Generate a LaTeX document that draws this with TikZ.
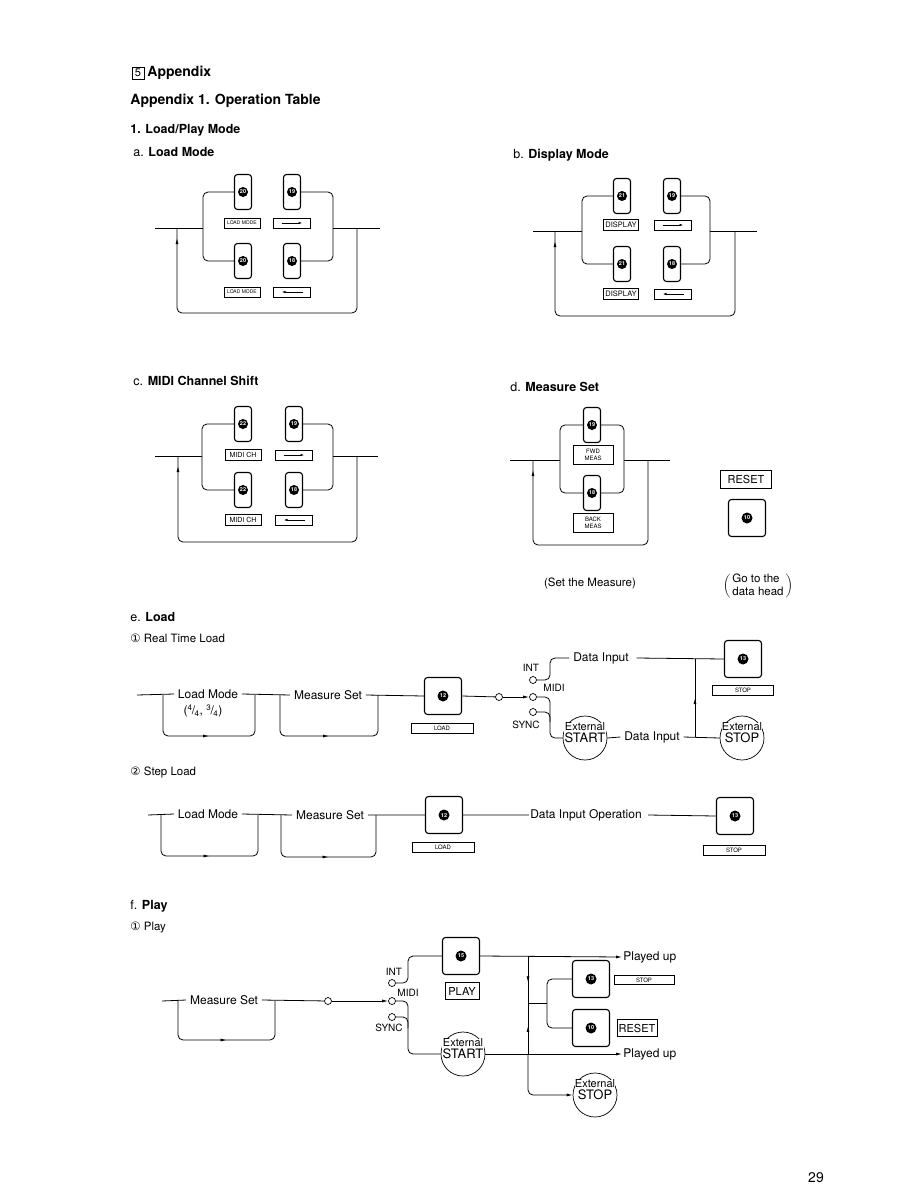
\documentclass[tikz,border=0pt]{standalone}
\usepackage{fontspec}
\setmainfont{TeX Gyre Heros}
\newfontfamily\symfont{DejaVu Sans}
\usetikzlibrary{arrows.meta}
\usetikzlibrary{decorations.markings}
\usetikzlibrary{calc}
\tikzset{
  >={Latex[length=6pt,width=3pt]},
  flow/.style={rounded corners=5pt},
  mtip/.style={decoration={markings, mark=at position #1 with {\arrow{>}}}, postaction=decorate},
  knum/.style={circle, fill=black, text=white, inner sep=0pt, minimum size=10pt, font=\fontsize{5.5}{6}\selectfont\bfseries},
  tallkey/.style={draw, line width=1.1pt, rounded corners=3pt, minimum width=17pt, minimum height=35pt, inner sep=0pt, label={[knum]center:#1}},
  sqkey/.style={draw, line width=1.1pt, rounded corners=3pt, minimum width=37pt, minimum height=37pt, inner sep=0pt, label={[knum, minimum size=11pt]center:#1}},
  lbl/.style={draw, line width=0.7pt, minimum width=36pt, minimum height=10pt, inner sep=0.5pt, font=\fontsize{5}{6}\selectfont},
  arrbase/.style={draw, line width=0.7pt, minimum width=37pt, minimum height=10pt, inner sep=0pt},
  fwdbox/.style={arrbase, path picture={\draw[line width=0.8pt, -{Latex[length=4pt,width=2.5pt]}] ([xshift=8pt]path picture bounding box.west) -- ([xshift=-8pt]path picture bounding box.east);}},
  backbox/.style={arrbase, path picture={\draw[line width=0.8pt, {Latex[length=4pt,width=2.5pt]}-] ([xshift=8pt]path picture bounding box.west) -- ([xshift=-8pt]path picture bounding box.east);}},
  jack/.style={circle, draw, line width=0.7pt, fill=white, minimum size=7pt, inner sep=0pt},
  extc/.style={circle, draw, line width=0.7pt, minimum size=44pt, inner sep=0pt},
  exttxt/.style={fill=white, inner sep=0.3pt, align=center, yshift=5pt},
  txt/.style={font=\fontsize{12}{14}\selectfont, inner sep=3.5pt},
  small/.style={font=\fontsize{10}{12}\selectfont, inner sep=0.5pt},
  head/.style={anchor=west, font=\fontsize{12.5}{15}\selectfont, inner sep=0pt}
}
\newcommand{\extlbl}[1]{{\fontsize{11}{12}\selectfont External}\\{\fontsize{13}{14}\selectfont #1}}
\newcommand{\slfrac}[2]{\textsuperscript{#1}\kern-0.6pt/\kern-0.6pt\textsubscript{#2}}

\begin{document}
\begin{tikzpicture}[x=1pt, y=-1pt, line width=0.8pt]
    \useasboundingbox (0,0) rectangle (918,1188);

    % Headings
    \node[draw, line width=0.6pt, minimum size=12pt, inner sep=0pt, font=\fontsize{11}{12}\selectfont] (hNum) at (138,73) {5};
    \node[anchor=west, font=\fontsize{14}{16}\selectfont\bfseries, inner sep=0pt] (hApp) at (147,73) {Appendix};
    \node[anchor=west, font=\fontsize{14}{16}\selectfont\bfseries, inner sep=0pt] (hTab) at (130,101) {Appendix 1. Operation Table};
    \node[anchor=west, font=\fontsize{12.5}{15}\selectfont\bfseries, inner sep=0pt] (hLP) at (130,130) {1. Load/Play Mode};
    \node[head] (hA) at (133,152) {a. \textbf{Load Mode}};
    \node[head] (hB) at (513,155) {b. \textbf{Display Mode}};
    \node[head] (hC) at (133,381) {c. \textbf{MIDI Channel Shift}};
    \node[head] (hD) at (510,387) {d. \textbf{Measure Set}};
    \node[head] (hE) at (130,617) {e. \textbf{Load}};
    \node[head, font=\fontsize{11.5}{14}\selectfont] (hE1) at (130,638) {{\symfont ①} Real Time Load};
    \node[head, font=\fontsize{11.5}{14}\selectfont] (hE2) at (130,772) {{\symfont ②} Step Load};
    \node[head] (hF) at (130,906) {f. \textbf{Play}};
    \node[head, font=\fontsize{11.5}{14}\selectfont] (hF1) at (130,927) {{\symfont ①} Play};

    % a. Load Mode
    \coordinate (aL) at (155,228);
    \coordinate (aR) at (380,228);
    \coordinate (aBl) at (203,228);
    \coordinate (aBr) at (333,228);
    \coordinate (aRetR) at (357,228);
    \coordinate (aRetL) at (177,228);
    \coordinate (aRetB) at (267,313);
    \node[tallkey=20] (aK20u) at (243,192) {};
    \node[tallkey=19] (aK19) at (292,192) {};
    \node[tallkey=20] (aK20d) at (243,261) {};
    \node[tallkey=18] (aK18) at (292,261) {};
    \node[lbl] (aLm1) at (242,223) {LOAD MODE};
    \node[fwdbox] (aFwd) at (292,223) {};
    \node[lbl] (aLm2) at (242,292) {LOAD MODE};
    \node[backbox] (aBack) at (292,292) {};
    \draw (aL) -- (aBl) (aBr) -- (aR);
    \draw[flow] (aK20u.west) -| (aBl) |- (aK20d.west);
    \draw[flow] (aK19.east) -| (aBr) |- (aK18.east);
    \draw[flow, mtip=-10pt] (aRetR) |- (aRetB) -| (aRetL);

    % b. Display Mode
    \coordinate (bL) at (533,231);
    \coordinate (bR) at (757,231);
    \coordinate (bBl) at (582,231);
    \coordinate (bBr) at (710,231);
    \coordinate (bRetR) at (735,231);
    \coordinate (bRetL) at (555,231);
    \coordinate (bRetB) at (645,316);
    \node[tallkey=21] (bK21u) at (622,196) {};
    \node[tallkey=19] (bK19) at (672,196) {};
    \node[tallkey=21] (bK21d) at (622,264) {};
    \node[tallkey=18] (bK18) at (672,264) {};
    \node[lbl, minimum width=35pt, minimum height=11pt, font=\fontsize{7.5}{8}\selectfont] (bDsp1) at (621,225) {DISPLAY};
    \node[fwdbox] (bFwd) at (673,225) {};
    \node[lbl, minimum width=35pt, minimum height=11pt, font=\fontsize{7.5}{8}\selectfont] (bDsp2) at (621,294) {DISPLAY};
    \node[backbox] (bBack) at (673,294) {};
    \draw (bL) -- (bBl) (bBr) -- (bR);
    \draw[flow] (bK21u.west) -| (bBl) |- (bK21d.west);
    \draw[flow] (bK19.east) -| (bBr) |- (bK18.east);
    \draw[flow, mtip=-10pt] (bRetR) |- (bRetB) -| (bRetL);

    % c. MIDI Channel Shift
    \coordinate (cL) at (155,456);
    \coordinate (cR) at (378,456);
    \coordinate (cBl) at (202,456);
    \coordinate (cBr) at (333,456);
    \coordinate (cRetR) at (357,456);
    \coordinate (cRetL) at (178,456);
    \coordinate (cRetB) at (267,542);
    \node[tallkey=22] (cK22u) at (243,424) {};
    \node[tallkey=19] (cK19) at (294,424) {};
    \node[tallkey=22] (cK22d) at (243,490) {};
    \node[tallkey=18] (cK18) at (294,490) {};
    \node[lbl, minimum height=11pt, font=\fontsize{7}{8}\selectfont] (cMch1) at (243,455) {MIDI CH};
    \node[fwdbox] (cFwd) at (294,455) {};
    \node[lbl, minimum height=11pt, font=\fontsize{7}{8}\selectfont] (cMch2) at (243,520) {MIDI CH};
    \node[backbox] (cBack) at (294,520) {};
    \draw (cL) -- (cBl) (cBr) -- (cR);
    \draw[flow] (cK22u.west) -| (cBl) |- (cK22d.west);
    \draw[flow] (cK19.east) -| (cBr) |- (cK18.east);
    \draw[flow, mtip=-10pt] (cRetR) |- (cRetB) -| (cRetL);

    % d. Measure Set
    \coordinate (dL) at (510,460);
    \coordinate (dR) at (670,460);
    \coordinate (dBl) at (560,460);
    \coordinate (dBr) at (624,460);
    \coordinate (dRetR) at (648,460);
    \coordinate (dRetL) at (533,460);
    \coordinate (dRetB) at (590,545);
    \node[tallkey=19] (dK19) at (592,425) {};
    \node[tallkey=18] (dK18) at (592,493) {};
    \node[lbl, minimum width=40pt, minimum height=19pt, align=center, font=\fontsize{6}{6.5}\selectfont] (dFwd) at (593,455) {FWD\\MEAS};
    \node[lbl, minimum width=40pt, minimum height=19pt, align=center, font=\fontsize{6}{6.5}\selectfont] (dBack) at (593,523) {BACK\\MEAS};
    \draw (dL) -- (dBl) (dBr) -- (dR);
    \draw[flow] (dK19.west) -| (dBl) |- (dK18.west);
    \draw[flow] (dK19.east) -| (dBr) |- (dK18.east);
    \draw[flow, mtip=-10pt] (dRetR) |- (dRetB) -| (dRetL);
    \node[draw, line width=0.7pt, minimum width=51pt, minimum height=18pt, inner sep=0pt, font=\fontsize{11}{12}\selectfont] (dReset) at (746,479) {RESET};
    \node[sqkey=10] (dK10) at (747,518) {};
    \node[txt, font=\fontsize{11.5}{14}\selectfont] (dSet) at (590,583) {(Set the Measure)};
    \node[txt, font=\fontsize{11.5}{13}\selectfont] (dGo) at (758,586) {$\left(\mbox{\begin{tabular}{@{\,}l@{\,}}Go to the\\ data head\end{tabular}}\right)$};

    % e. Real Time Load
    \coordinate (rL0) at (137,695);
    \coordinate (rL1) at (163,695);
    \coordinate (rL2) at (255,695);
    \coordinate (rLb) at (209,736);
    \coordinate (rM1) at (280,695);
    \coordinate (rM2) at (378,695);
    \coordinate (rMb) at (329,736);
    \node[txt] (rLm) at (208,694) {Load Mode};
    \node[txt] (rLmf) at (203,711) {(\slfrac{4}{4}, \slfrac{3}{4})};
    \node[txt] (rMs) at (328,695) {Measure Set};
    \node[sqkey=12] (rK12) at (443,696) {};
    \node[lbl, minimum width=62pt, font=\fontsize{6}{7}\selectfont] (rLoad) at (442,728) {LOAD};
    \draw (rL0) -- (rLm.west) (rLm.east) -- (rMs.west) (rMs.east) -- (rK12.west);
    \draw[flow, mtip=0.5] (rL1) |- (rLb) -| (rL2);
    \draw[flow, mtip=0.5] (rM1) |- (rMb) -| (rM2);
    \node[jack] (rJin) at (499,697) {};
    \node[jack] (rJint) at (533,680) {};
    \node[jack] (rJmidi) at (533,697) {};
    \node[jack] (rJsync) at (533,712) {};
    \node[small] (rInt) at (531,668) {INT};
    \node[small] (rMidi) at (554,688) {MIDI};
    \node[small] (rSync) at (526,725) {SYNC};
    \draw (rK12.east) -- (rJin);
    \draw[->] (rJin) -- (rJmidi);
    \coordinate (rC1) at (550,658);
    \coordinate (rC2) at (550,712);
    \coordinate (rC3) at (550,722);
    \node[txt] (rDi1) at (601,658) {Data Input};
    \node[sqkey=13] (rK13) at (743,659) {};
    \node[lbl, minimum width=61pt, font=\fontsize{6}{7}\selectfont] (rStop) at (743,690) {STOP};
    \node[extc, label={[exttxt]center:{\extlbl{START}}}] (rSt) at (585,738) {};
    \node[txt, fill=white] (rDi2) at (652,737) {Data Input};
    \node[extc, label={[exttxt]center:{\extlbl{STOP}}}] (rSp) at (742,738) {};
    \coordinate (rV) at (695,737);
    \draw[flow] (rJint.east) -| (rC1) -- (rDi1.west);
    \draw (rDi1.east) ++(4,0) -- (rK13.west);
    \draw[flow] (rJmidi.east) -| (rC2) |- (rSt.west);
    \draw[flow] (rJsync.east) -| (rC3);
    \draw (rSt.east) -- (rDi2.west) (rDi2.east) -- (rSp.west);
    \draw[mtip=0.5] (rV) -- (rV |- rK13.west);

    % e. Step Load
    \coordinate (sL0) at (148,815);
    \coordinate (sL1) at (161,815);
    \coordinate (sL2) at (258,815);
    \coordinate (sLb) at (209,856);
    \coordinate (sM1) at (281,815);
    \coordinate (sM2) at (376,815);
    \coordinate (sMb) at (329,857);
    \node[txt] (sLm) at (208,814) {Load Mode};
    \node[txt] (sMs) at (330,815) {Measure Set};
    \node[sqkey=12] (sK12) at (444,815) {};
    \node[lbl, minimum width=62pt, font=\fontsize{6}{7}\selectfont] (sLoad) at (443,847) {LOAD};
    \node[txt, inner sep=1pt] (sDio) at (586,815) {Data Input Operation};
    \node[sqkey=13] (sK13) at (735,816) {};
    \node[lbl, minimum width=62pt, font=\fontsize{6}{7}\selectfont] (sStop) at (734,850) {STOP};
    \draw (sL0) -- (sLm.west) (sLm.east) -- (sMs.west) (sMs.east) -- (sK12.west);
    \draw (sK12.east) -- (sDio.west) (sDio.east) ++(5,0) -- (sK13.west);
    \draw[flow, mtip=0.5] (sL1) |- (sLb) -| (sL2);
    \draw[flow, mtip=0.5] (sM1) |- (sMb) -| (sM2);

    % f. Play
    \coordinate (pL0) at (162,1001);
    \coordinate (pL1) at (178,1001);
    \coordinate (pL2) at (275,1001);
    \coordinate (pLb) at (226,1040);
    \node[txt] (pMs) at (224,1000) {Measure Set};
    \node[jack] (pJin) at (328,1001) {};
    \node[jack] (pJint) at (392,983) {};
    \node[jack] (pJmidi) at (392,1001) {};
    \node[jack] (pJsync) at (392,1017) {};
    \node[small] (pInt) at (394,972) {INT};
    \node[small] (pMidi) at (408,993) {MIDI};
    \node[small] (pSync) at (389,1028) {SYNC};
    \draw (pL0) -- (pMs.west) (pMs.east) -- (pJin);
    \draw[flow, mtip=0.5] (pL1) |- (pLb) -| (pL2);
    \draw[->] (pJin) -- (pJmidi);
    \node[sqkey=15] (pK15) at (461,956) {};
    \node[draw, line width=0.7pt, minimum width=34pt, minimum height=17pt, inner sep=0pt, font=\fontsize{11}{12}\selectfont] (pPlay) at (462,991) {PLAY};
    \node[extc, label={[exttxt]center:{\extlbl{START}}}] (pSt) at (463,1054) {};
    \coordinate (pC1) at (408,956);
    \coordinate (pC2) at (408,1017);
    \coordinate (pC3) at (408,1028);
    \draw[flow] (pJint.east) -| (pC1) -- (pK15.west);
    \draw[flow] (pJmidi.east) -| (pC2) |- (pSt.west);
    \draw[flow] (pJsync.east) -| (pC3);
    \node[txt, anchor=west, inner sep=1pt] (pUp1) at (622,957) {Played up};
    \node[txt, anchor=west, inner sep=1pt] (pUp2) at (622,1054) {Played up};
    \draw[->] (pK15.east) -- (pUp1.west);
    \draw[->] (pSt.east) -- (pUp2.west);
    \coordinate (pV1) at (528,957);
    \coordinate (pV2) at (528,1003);
    \coordinate (pV3) at (528,1054);
    \coordinate (pB) at (547,1003);
    \draw[mtip=0.55] (pV1) -- (pV2);
    \draw[mtip=0.55] (pV3) -- (pV2);
    \draw (pV2) -- (pB);
    \node[sqkey=13] (pK13) at (591,979) {};
    \node[sqkey=10] (pK10) at (591,1028) {};
    \node[lbl, minimum width=60pt, minimum height=9pt, font=\fontsize{6}{7}\selectfont] (pStop) at (644,980) {STOP};
    \node[draw, line width=0.7pt, minimum width=40pt, minimum height=17pt, inner sep=0pt, font=\fontsize{11}{12}\selectfont] (pReset) at (637,1028) {RESET};
    \draw[flow] (pK13.west) -| (pB) |- (pK10.west);
    \node[extc, label={[exttxt]center:{\extlbl{STOP}}}] (pSp) at (595,1095) {};
    \draw[flow, ->] (pV3) |- (pSp.west);

    % page number
    \node[font=\fontsize{14}{16}\selectfont] (pgNo) at (816,1178) {29};
\end{tikzpicture}
\end{document}
